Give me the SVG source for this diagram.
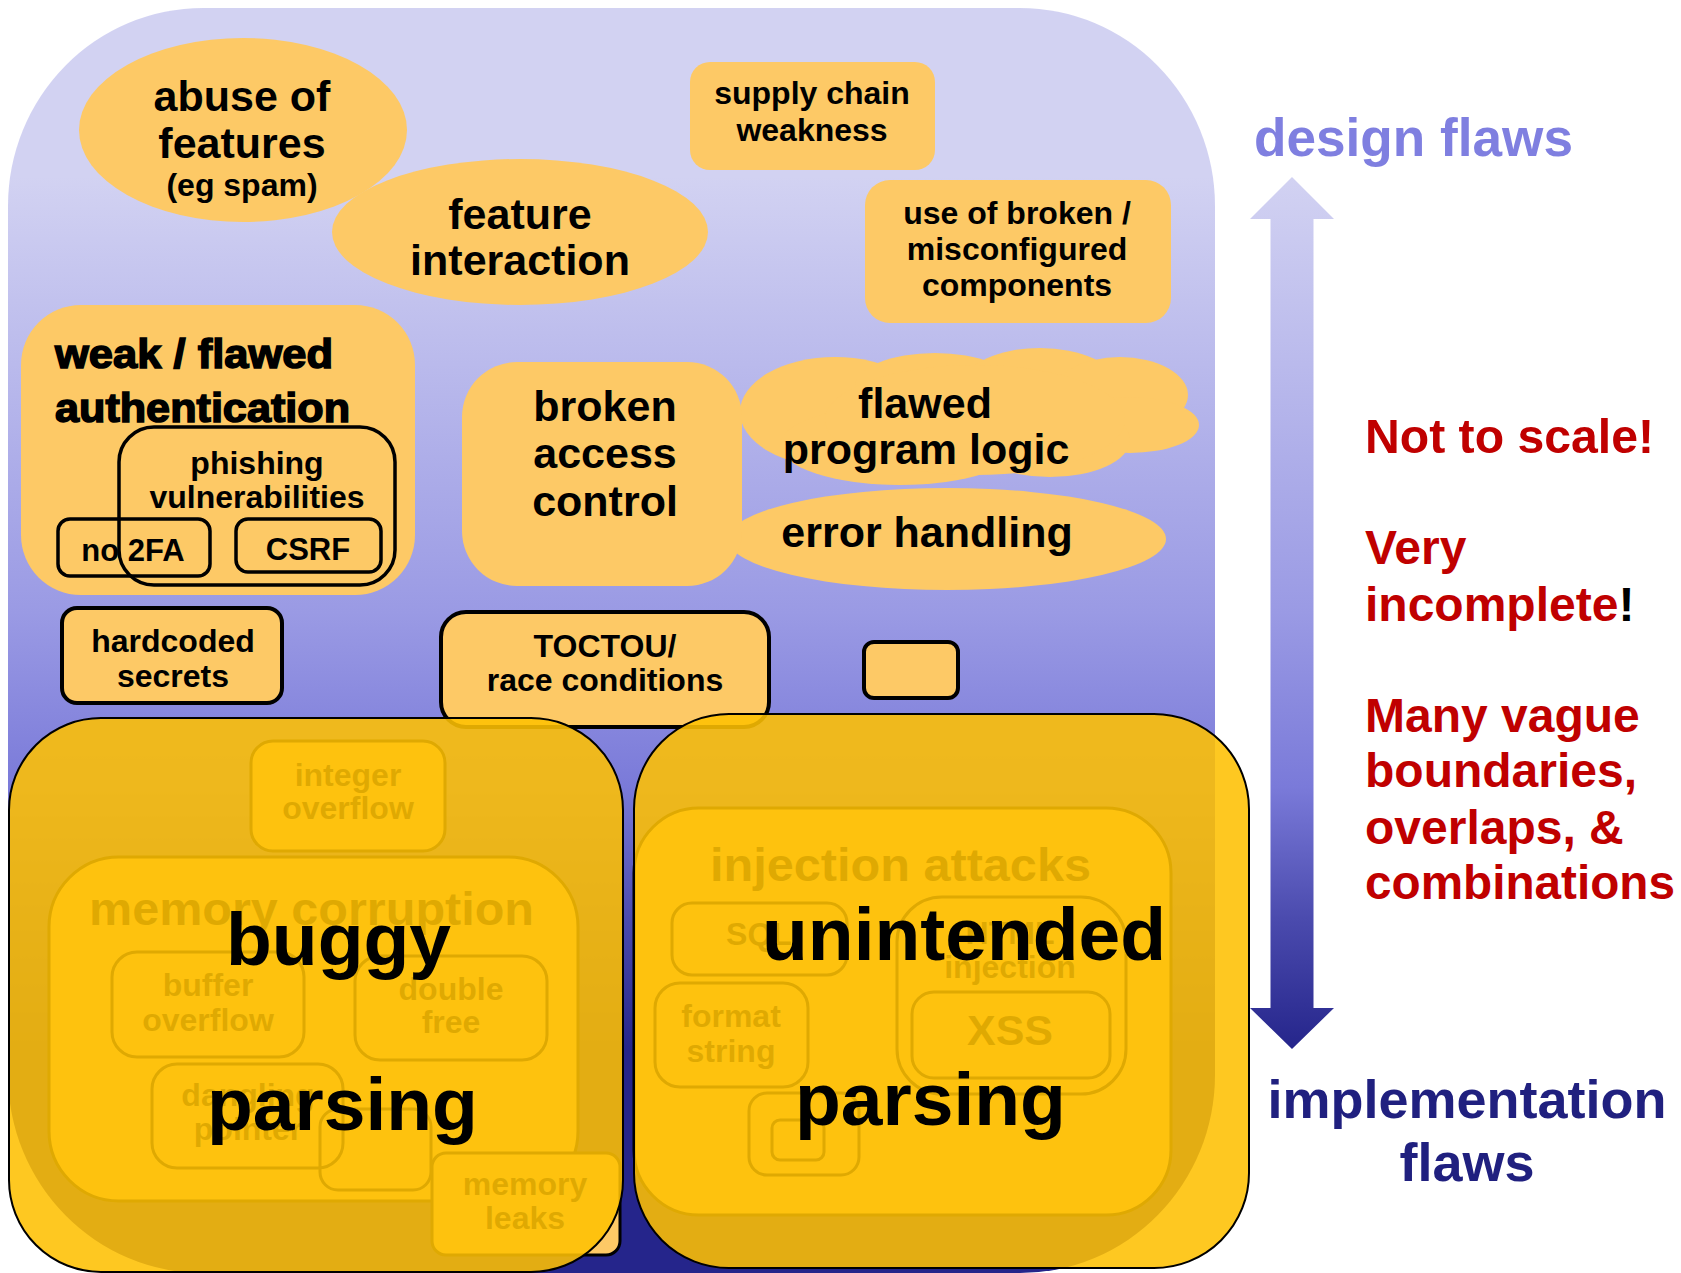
<svg xmlns="http://www.w3.org/2000/svg" width="1681" height="1273" viewBox="0 0 1681 1273">
<defs>
<linearGradient id="blueGrad" gradientUnits="userSpaceOnUse" x1="0" y1="177" x2="0" y2="1049">
<stop offset="0" stop-color="#d2d2f2"/>
<stop offset="0.5" stop-color="#9a9ae4"/>
<stop offset="0.7" stop-color="#7a7ad9"/>
<stop offset="0.85" stop-color="#4b4bae"/>
<stop offset="1" stop-color="#25258b"/>
</linearGradient>
<style>
text { font-family: "Liberation Sans", Arial, Helvetica, sans-serif; font-weight: bold; fill: #000; }
.c { text-anchor: middle; }
.or { fill: #fdc966; }
.ob { fill: #fdc966; stroke: #000; stroke-width: 4; }
.in { fill: #fdc966; stroke: #000; stroke-width: 3; }
.ie { fill: none; stroke: #000; stroke-width: 3; }
.ov { fill: #fec002; fill-opacity: 0.88; stroke: #000; stroke-width: 2; }
.f31 { font-size: 31px; }
.f32 { font-size: 32px; }
.f43 { font-size: 43px; }
.f47 { font-size: 47px; }
.big { font-size: 75px; }
.heavy { font-size: 40px; stroke: #000; stroke-width: 1.5; }
.red { font-size: 48px; fill: #c00000; }
.axis { font-size: 54px; }
</style>
</defs>

<rect id="background" x="8" y="8" width="1207" height="1265" rx="195" ry="198" fill="url(#blueGrad)"/>

<g id="abuse-of-features">
<ellipse class="or" cx="243" cy="130" rx="164" ry="92"/>
<text class="c f43" x="242" y="111">abuse of</text>
<text class="c f43" x="242" y="158">features</text>
<text class="c f32" x="242" y="196">(eg spam)</text>
</g>

<g id="feature-interaction">
<ellipse class="or" cx="520" cy="232" rx="188" ry="73"/>
<text class="c f43" x="520" y="229">feature</text>
<text class="c f43" x="520" y="275">interaction</text>
</g>

<g id="supply-chain">
<rect class="or" x="690" y="62" width="245" height="108" rx="20"/>
<text class="c f32" x="812" y="104">supply chain</text>
<text class="c f32" x="812" y="141">weakness</text>
</g>

<g id="broken-components">
<rect class="or" x="865" y="180" width="306" height="143" rx="25"/>
<text class="c f32" x="1017" y="224">use of broken /</text>
<text class="c f32" x="1017" y="260">misconfigured</text>
<text class="c f32" x="1017" y="296">components</text>
</g>

<g id="weak-authentication">
<rect class="or" x="21" y="305" width="394" height="290" rx="60"/>
<text class="heavy" x="55" y="368" textLength="278" lengthAdjust="spacingAndGlyphs">weak / flawed</text>
<text class="heavy" x="55" y="422" textLength="295" lengthAdjust="spacingAndGlyphs">authentication</text>
<g id="phishing">
<rect fill="none" stroke="#000" stroke-width="3.5" x="119" y="427" width="276" height="158" rx="35"/>
<text class="c f32" x="257" y="474">phishing</text>
<text class="c f32" x="257" y="508">vulnerabilities</text>
</g>
<g id="no-2fa">
<rect fill="none" stroke="#000" stroke-width="3.5" x="58" y="519" width="152" height="57" rx="12"/>
<text class="c f31" x="133" y="561">no 2FA</text>
</g>
<g id="csrf">
<rect fill="none" stroke="#000" stroke-width="3.5" x="236" y="519" width="145" height="53" rx="12"/>
<text class="c f31" x="308" y="560">CSRF</text>
</g>
</g>

<g id="flawed-program-logic">
<ellipse class="or" cx="835" cy="412" rx="95" ry="55"/>
<ellipse class="or" cx="935" cy="386" rx="80" ry="33"/>
<ellipse class="or" cx="1040" cy="383" rx="75" ry="35"/>
<ellipse class="or" cx="1120" cy="395" rx="68" ry="38"/>
<ellipse class="or" cx="1130" cy="425" rx="69" ry="28"/>
<ellipse class="or" cx="1050" cy="440" rx="80" ry="37"/>
<ellipse class="or" cx="900" cy="445" rx="120" ry="40"/>
<ellipse class="or" cx="975" cy="420" rx="150" ry="55"/>
<text class="c f43" x="925" y="418">flawed</text>
<text class="c f43" x="926" y="464">program logic</text>
</g>

<g id="error-handling">
<ellipse class="or" cx="947" cy="539" rx="219" ry="51"/>
<text class="c f43" x="927" y="547">error handling</text>
</g>

<g id="broken-access-control">
<rect class="or" x="462" y="362" width="280" height="224" rx="55"/>
<text class="c f43" x="605" y="421">broken</text>
<text class="c f43" x="605" y="468">access</text>
<text class="c f43" x="605" y="516">control</text>
</g>

<g id="hardcoded-secrets">
<rect class="ob" x="62" y="608" width="220" height="95" rx="15"/>
<text class="c f32" x="173" y="652">hardcoded</text>
<text class="c f32" x="173" y="687">secrets</text>
</g>

<g id="toctou">
<rect class="ob" x="441" y="612" width="328" height="115" rx="25"/>
<text class="c f32" x="605" y="657">TOCTOU/</text>
<text class="c f32" x="605" y="691">race conditions</text>
</g>

<g id="empty-box">
<rect class="ob" x="864" y="642" width="94" height="56" rx="10"/>
</g>

<g id="buggy-parsing">
<g id="integer-overflow">
<rect class="in" x="251" y="741" width="194" height="110" rx="22"/>
<text class="c f32" x="348" y="786">integer</text>
<text class="c f32" x="348" y="819">overflow</text>
</g>
<g id="memory-corruption">
<rect class="in" x="49" y="857" width="529" height="344" rx="70"/>
<text class="f47" x="89" y="925" textLength="445" lengthAdjust="spacingAndGlyphs">memory corruption</text>
<g id="buffer-overflow">
<rect class="ie" x="112" y="952" width="192" height="105" rx="25"/>
<text class="c f32" x="208" y="996">buffer</text>
<text class="c f32" x="208" y="1031">overflow</text>
</g>
<g id="double-free">
<rect class="ie" x="355" y="956" width="192" height="104" rx="25"/>
<text class="c f32" x="451" y="1000">double</text>
<text class="c f32" x="451" y="1033">free</text>
</g>
<g id="dangling-pointer">
<rect class="ie" x="152" y="1064" width="191" height="104" rx="25"/>
<text class="c f32" x="248" y="1106">dangling</text>
<text class="c f32" x="248" y="1140">pointer</text>
</g>
<rect class="ie" x="320" y="1109" width="111" height="81" rx="18"/>
</g>
<g id="memory-leaks">
<rect class="in" x="432" y="1153" width="188" height="102" rx="14"/>
<text class="c f32" x="525" y="1195">memory</text>
<text class="c f32" x="525" y="1229">leaks</text>
</g>
<rect class="ov" x="9" y="718" width="614" height="554" rx="92"/>
<text class="big" x="226" y="965">buggy</text>
<text class="big" x="207" y="1130" font-size="74">parsing</text>
</g>

<g id="unintended-parsing">
<g id="injection-attacks">
<rect class="in" x="634" y="808" width="537" height="407" rx="65"/>
<text class="f47" x="710" y="881" textLength="381" lengthAdjust="spacingAndGlyphs">injection attacks</text>
<g id="sql">
<rect class="ie" x="672" y="903" width="175" height="72" rx="20"/>
<text class="c f32" x="759" y="945">SQL</text>
</g>
<g id="format-string">
<rect class="ie" x="655" y="983" width="153" height="104" rx="25"/>
<text class="c f32" x="731" y="1027">format</text>
<text class="c f32" x="731" y="1062">string</text>
</g>
<g id="html-injection">
<rect class="ie" x="897" y="897" width="229" height="197" rx="45"/>
<text class="c f32" x="1010" y="944">HTML</text>
<text class="c f32" x="1010" y="978">injection</text>
<g id="xss">
<rect class="ie" x="912" y="992" width="198" height="86" rx="22"/>
<text class="c f43" x="1010" y="1045">XSS</text>
</g>
</g>
<rect class="ie" x="749" y="1093" width="110" height="82" rx="18"/>
<rect class="ie" x="772" y="1120" width="52" height="40" rx="8"/>
</g>
<rect class="ov" x="634" y="714" width="615" height="554" rx="95"/>
<text class="big" x="762" y="960">unintended</text>
<text class="big" x="795" y="1125" font-size="74">parsing</text>
</g>

<g id="connectors">
<polygon fill="url(#blueGrad)" points="1292,177 1334,219 1313.5,219 1313.5,1008 1334,1008 1292,1049 1250,1008 1270.5,1008 1270.5,219 1250,219"/>
</g>

<g id="axis-labels">
<text class="axis" x="1254" y="156" style="fill:#7f7fe0" textLength="319" lengthAdjust="spacingAndGlyphs">design flaws</text>
<text class="axis c" x="1467" y="1118" style="fill:#20207f">implementation</text>
<text class="axis c" x="1467" y="1181" style="fill:#20207f">flaws</text>
</g>

<g id="notes">
<text class="red" x="1365" y="453" textLength="289" lengthAdjust="spacingAndGlyphs">Not to scale!</text>
<text class="red" x="1365" y="564">Very</text>
<text class="red" x="1365" y="621">incomplete<tspan style="fill:#000">!</tspan></text>
<text class="red" x="1365" y="732">Many vague</text>
<text class="red" x="1365" y="787">boundaries,</text>
<text class="red" x="1365" y="844">overlaps, &amp;</text>
<text class="red" x="1365" y="899" textLength="310" lengthAdjust="spacingAndGlyphs">combinations</text>
</g>
</svg>
